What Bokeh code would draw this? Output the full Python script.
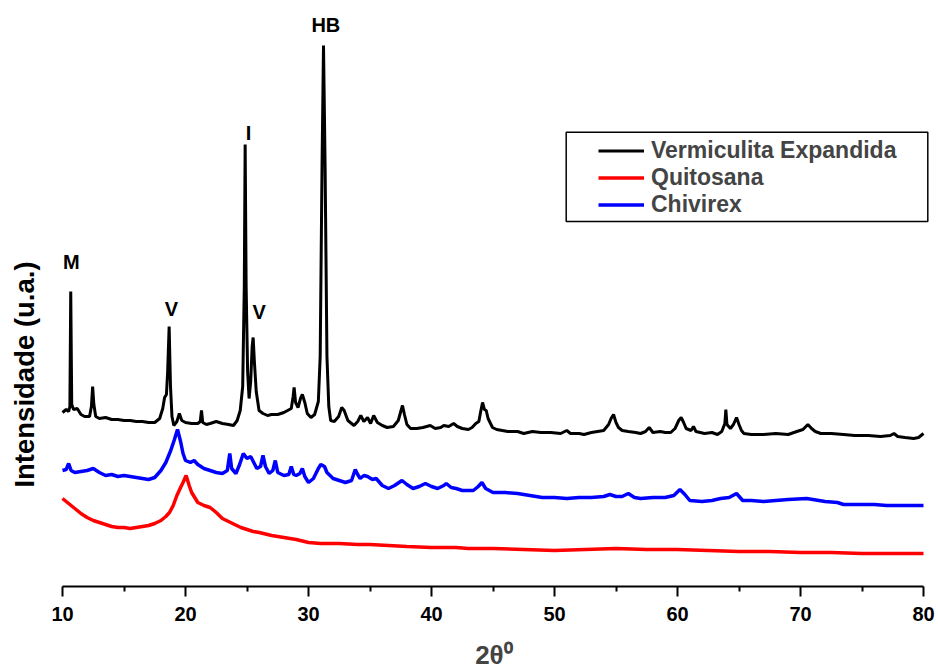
import math
from bokeh.plotting import figure
from bokeh.models import (ColumnDataSource, FixedTicker, Legend, LegendItem, BoxAnnotation)
from bokeh.core.properties import value
from bokeh.embed import file_html
from bokeh.resources import INLINE

# ---------------- data ----------------
series_names = ["Vermiculita Expandida", "Quitosana", "Chivirex"]

verm_x = [10.0, 10.3, 10.5, 10.6, 10.67, 10.75, 10.9, 11.2, 11.5, 11.8, 12.2, 12.35, 12.45, 12.55, 12.7,
          13.0, 13.5, 14.0, 14.5, 15.0, 15.5, 16.0, 16.5, 17.0, 17.5, 17.9, 18.15, 18.3, 18.45, 18.55,
          18.67, 18.78, 18.9, 19.05, 19.3, 19.5, 19.7, 20.0, 20.5, 21.0, 21.2, 21.3, 21.4, 21.7, 22.0,
          22.5, 23.0, 23.5, 23.9, 24.2, 24.45, 24.65, 24.78, 24.85, 24.93, 25.05, 25.17, 25.3, 25.42,
          25.5, 25.6, 25.75, 25.98, 26.3, 26.67, 27.0, 27.5, 28.0, 28.3, 28.6, 28.75, 28.83, 28.95,
          29.15, 29.35, 29.5, 29.7, 29.9, 30.2, 30.5, 30.8, 30.95, 31.1, 31.22, 31.35, 31.5, 31.65,
          31.8, 32.1, 32.45, 32.7, 32.9, 33.2, 33.7, 34.0, 34.25, 34.5, 34.8, 35.05, 35.3, 35.6, 36.0,
          36.4, 36.9, 37.3, 37.5, 37.64, 37.8, 38.0, 38.3, 38.8, 39.3, 39.9, 40.3, 40.75, 41.0, 41.4,
          41.8, 42.1, 42.5, 43.0, 43.3, 43.6, 43.85, 44.0, 44.15, 44.3, 44.45, 44.6, 44.96, 45.3, 46.2,
          47.0, 47.5, 48.2, 48.9, 49.7, 50.5, 51.0, 51.3, 52.0, 52.4, 53.0, 53.5, 54.0, 54.4, 54.6,
          54.8, 55.0, 55.2, 55.5, 56.0, 56.6, 57.0, 57.4, 57.7, 58.0, 58.6, 59.0, 59.45, 59.8, 60.1,
          60.3, 60.5, 60.7, 61.1, 61.3, 61.5, 62.2, 62.8, 63.25, 63.6, 63.85, 63.93, 64.02, 64.3,
          64.55, 64.8, 65.0, 65.2, 65.4, 66.0, 67.0, 68.0, 69.0, 69.7, 70.2, 70.6, 70.9, 71.2, 71.65,
          72.5, 73.5, 74.4, 75.5, 76.5, 77.3, 77.6, 77.9, 78.5, 79.2, 79.6, 80.0]
verm_y = [174, 177, 175, 180, 295, 182, 177, 178, 172, 170, 170, 180, 200, 182, 170,
          168, 169, 167, 167, 166, 166, 165, 165, 164, 164, 168, 178, 189, 192, 215,
          260, 200, 170, 161, 165, 173, 166, 164, 163, 163, 165, 176, 164, 162, 163,
          165, 163, 162, 161, 166, 176, 200, 300, 442, 300, 215, 188, 205, 240,
          249, 225, 195, 176, 173, 171, 172, 172, 174, 176, 178, 190, 199, 184,
          179, 188, 192, 184, 173, 169, 172, 185, 230, 420, 541, 420, 230, 180,
          166, 165, 170, 179, 176, 166, 161, 165, 171, 165, 169, 163, 171, 164, 161,
          159, 160, 166, 175, 181, 172, 162, 158, 158, 159, 161, 158, 159, 161, 160,
          163, 160, 158, 157, 159, 163, 165, 175, 184, 177, 176, 168, 159, 157, 155,
          155, 153, 155, 154, 154, 153, 156, 153, 153, 152, 154, 155, 156, 162, 168,
          172, 164, 159, 156, 155, 154, 153, 155, 159, 154, 155, 154, 154, 158, 166,
          169, 164, 158, 156, 160, 155, 153, 154, 152, 155, 163, 177, 162, 158,
          162, 169, 162, 156, 153, 152, 152, 153, 152, 155, 157, 162, 158, 155, 153,
          153, 152, 151, 151, 150, 151, 153, 150, 149, 148, 149, 153]

quit_x = [10.0, 10.5, 11.0, 11.5, 12.0, 12.5, 13.0, 13.5, 14.0, 14.5, 15.0, 15.5, 16.0, 16.5, 17.0,
          17.5, 18.0, 18.4, 18.7, 19.0, 19.3, 19.6, 19.8, 20.05, 20.3, 20.5, 20.8, 21.0, 21.5, 22.0,
          22.5, 23.0, 23.5, 24.0, 24.5, 25.0, 25.5, 26.0, 27.0, 28.0, 29.0, 30.0, 31.0, 32.5, 34.0,
          35.0, 36.5, 38.0, 40.0, 42.0, 43.0, 45.0, 47.5, 50.0, 52.5, 55.0, 57.5, 60.0, 62.5, 65.0,
          67.5, 70.0, 72.5, 75.0, 77.5, 80.0]
quit_y = [88, 83, 78, 73, 69, 66, 64, 62, 60, 59, 59, 58, 59, 60, 61,
          63, 66, 70, 74, 81, 91, 99, 104, 111, 101, 94, 88, 84, 81, 79,
          74, 68, 65, 62, 59, 57, 55, 54, 51, 49, 47, 44, 43, 43, 42,
          42, 41, 40, 39, 39, 38, 38, 37, 36, 37, 38, 37, 37, 36, 35,
          35, 34, 34, 33, 33, 33]

chiv_x = [10.0, 10.3, 10.5, 10.7, 11.0, 11.5, 12.0, 12.5, 13.0, 13.5, 14.0, 14.5, 15.0, 15.5, 16.0,
          16.5, 17.0, 17.5, 18.0, 18.4, 18.8, 19.1, 19.35, 19.6, 19.8, 20.0, 20.4, 20.7, 21.0, 21.5,
          22.0, 22.5, 23.0, 23.4, 23.6, 23.75, 24.1, 24.4, 24.7, 25.0, 25.3, 25.55, 25.8, 26.1, 26.3,
          26.5, 26.8, 27.1, 27.3, 27.5, 28.0, 28.4, 28.6, 28.8, 29.0, 29.3, 29.5, 29.7, 30.0, 30.4,
          30.8, 31.0, 31.3, 31.5, 32.0, 32.5, 33.0, 33.5, 33.8, 34.0, 34.2, 34.5, 34.8, 35.2, 35.5,
          36.0, 36.5, 37.0, 37.6, 38.0, 38.5, 39.0, 39.5, 40.0, 40.5, 41.0, 41.2, 41.6, 42.0, 42.5,
          43.0, 43.4, 43.8, 44.1, 44.4, 45.0, 46.0, 47.0, 48.0, 49.0, 50.0, 51.0, 52.0, 53.0, 54.0,
          54.5, 55.0, 55.5, 56.0, 56.5, 57.0, 58.0, 59.0, 59.7, 60.2, 60.6, 61.0, 62.0, 62.8, 63.5,
          64.2, 64.8, 65.3, 66.0, 67.0, 68.0, 69.0, 70.5, 71.0, 72.0, 73.0, 73.5, 74.5, 75.0, 76.0,
          77.0, 78.0, 79.0, 80.0]
chiv_y = [116, 117, 123, 116, 114, 115, 116, 118, 114, 111, 112, 110, 111, 110, 109,
          108, 107, 109, 116, 124, 136, 147, 157, 145, 133, 126, 124, 126, 122, 118,
          116, 114, 113, 116, 133, 118, 113, 122, 133, 128, 130, 124, 118, 120, 131,
          120, 113, 116, 126, 114, 111, 112, 120, 112, 111, 113, 118, 110, 104, 108,
          118, 122, 120, 114, 108, 106, 104, 106, 117, 112, 108, 111, 110, 107, 108,
          101, 98, 101, 106, 102, 98, 100, 103, 100, 98, 101, 103, 99, 98, 96,
          96, 96, 100, 104, 98, 94, 94, 93, 91, 89, 89, 88, 89, 89, 90,
          92, 90, 90, 93, 89, 88, 89, 89, 91, 97, 92, 86, 85, 86, 88,
          89, 93, 86, 86, 85, 86, 87, 88, 87, 85, 84, 82, 82, 82, 82,
          81, 81, 81, 81]

x_ticks = [10, 20, 30, 40, 50, 60, 70, 80]
x_minor_ticks = [15, 25, 35, 45, 55, 65, 75]

# peak annotations (text, 2theta, intensity at text centre)
peak_labels = ["M", "V", "I", "V", "HB"]
peak_label_x = [10.72, 18.86, 25.12, 25.98, 31.41]
peak_label_y = [325, 278, 454, 275, 562]

FONT = "Liberation Sans"

# layout: 12.3 px per degree, x=10 at 62 px from the left edge, x=80 at 923 px
PX = 861 / 70.0
x_start = 10 - 62 / PX
x_end = 80 + 6 / PX

p = figure(frame_width=929, frame_height=578, output_backend="svg", toolbar_location=None,
           x_range=(x_start, x_end), y_range=(0, 578),
           min_border_left=0, min_border_right=9, min_border_top=8, min_border_bottom=84)
p.outline_line_color = None
p.grid.visible = False
p.yaxis.visible = False
p.background_fill_color = "white"
p.border_fill_color = "white"

r_v = p.line(verm_x, verm_y, line_color="black", line_width=3)
r_q = p.line(quit_x, quit_y, line_color="#ff0000", line_width=3.5)
r_c = p.line(chiv_x, chiv_y, line_color="#0000ff", line_width=3.5)

src = ColumnDataSource(dict(x=peak_label_x, y=peak_label_y, t=peak_labels))
p.text(x="x", y="y", text="t", source=src, text_font=value(FONT), text_font_style="bold",
       text_font_size="20px", text_align="center", text_baseline="middle", text_color="black")

# y axis title (left of the x=10 origin)
p.text(x=[10 - 38 / PX], y=[212], text=["Intensidade (u.a.)"], angle=math.pi / 2,
       text_font=value(FONT), text_font_size="27.5px", text_font_style="bold", text_align="center",
       text_baseline="middle", text_color="black")

ax = p.xaxis[0]
ax.ticker = FixedTicker(ticks=x_ticks, minor_ticks=x_minor_ticks)
ax.bounds = (10, 80)
ax.axis_line_width = 2
ax.major_tick_line_width = 2
ax.minor_tick_line_width = 2
ax.major_tick_in = 0
ax.major_tick_out = 10
ax.minor_tick_in = 0
ax.minor_tick_out = 5
ax.major_label_text_font = FONT
ax.major_label_text_font_style = "bold"
ax.major_label_text_font_size = "20px"
ax.major_label_text_color = "black"
ax.major_label_standoff = 10
# non-breaking spaces shift the centred title over the 10..80 span of the axis
ax.axis_label = "\u00a0" * 8 + "2θ⁰"
ax.axis_label_text_font = FONT
ax.axis_label_text_font_style = "bold"
ax.axis_label_text_font_size = "26px"
ax.axis_label_standoff = 16

legend = Legend(items=[LegendItem(label=series_names[0], renderers=[r_v]),
                       LegendItem(label=series_names[1], renderers=[r_q]),
                       LegendItem(label=series_names[2], renderers=[r_c])],
                location=(590, 360), padding=8, spacing=0, glyph_width=46, glyph_height=25,
                label_height=25, label_standoff=7, margin=0,
                label_text_font=FONT, label_text_font_style="bold", label_text_font_size="23px",
                border_line_alpha=0, background_fill_alpha=0)
p.add_layout(legend)

box = BoxAnnotation(left=10 + (565.7 - 62) / PX, right=10 + (927.3 - 62) / PX, top=454.3, bottom=365,
                    fill_alpha=0, line_color="black", line_width=1.5, line_alpha=1)
p.add_layout(box)

open("out.html", "w").write(file_html(p, INLINE))
